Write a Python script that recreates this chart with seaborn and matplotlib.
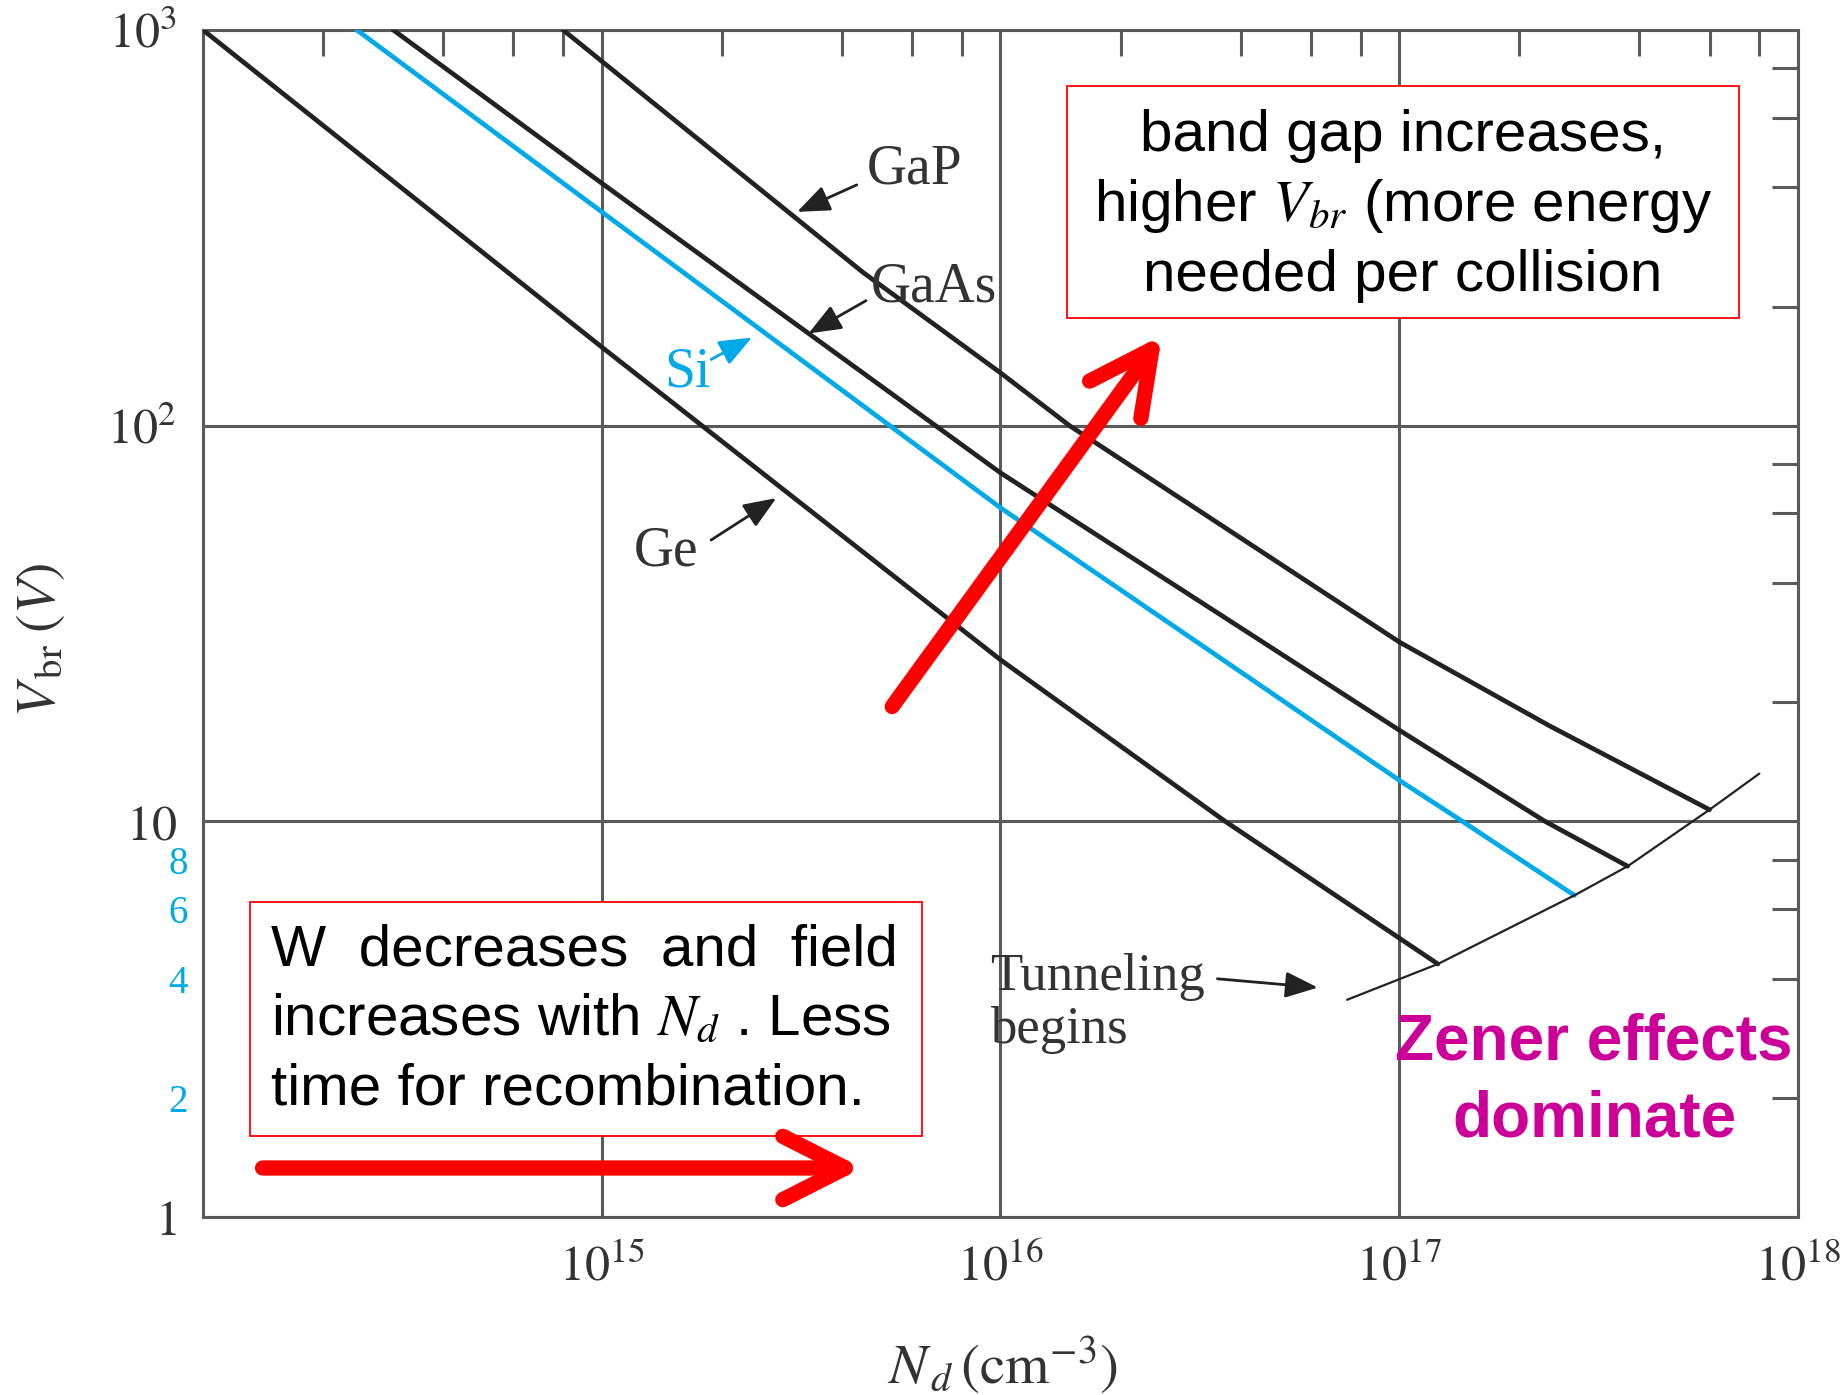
import matplotlib.pyplot as plt
import seaborn as sns
from matplotlib.patches import Rectangle
from matplotlib.ticker import NullFormatter

# breakdown voltage vs donor concentration
ge_nd = [1e14, 1e15, 1e16, 3.66e16, 1.25e17]
ge_vbr = [1000, 158, 25.6, 10, 4.36]

si_nd = [2.43e14, 1e15, 1e16, 1e17, 1.44e17, 2.75e17]
si_vbr = [1000, 347, 62, 12.7, 10, 6.5]

gaas_nd = [3.0e14, 1e15, 1e16, 1e17, 2.32e17, 3.74e17]
gaas_vbr = [1000, 410, 76, 17.0, 10, 7.7]

gap_nd = [8.0e14, 1.32e15, 4.52e15, 1e16, 1.49e16, 1e17, 2.39e17, 6.0e17]
gap_vbr = [1000, 665, 244, 136, 100, 28.4, 17.4, 10.7]

tunnel_nd = [7.4e16, 1.25e17, 2.75e17, 3.74e17, 6.0e17, 8.0e17]
tunnel_vbr = [3.54, 4.36, 6.5, 7.7, 10.7, 13.2]

x_major = [1e14, 1e15, 1e16, 1e17, 1e18]
x_major_labels = ['', r'$10^{15}$', r'$10^{16}$', r'$10^{17}$', r'$10^{18}$']
y_major = [1, 10, 100, 1000]
y_major_labels = [r'$1$', r'$10$', r'$10^2$', r'$10^3$']
y_minor_labels = ['2', '4', '6', '8']

BLACK = '#222222'
BLUE = '#00A9E8'
GRAY = '#5a5a5a'
RED = '#FF0000'
MAGENTA = '#CC0099'

sns.set_style('white')
plt.rcParams['font.family'] = ['Liberation Serif', 'DejaVu Serif']
plt.rcParams['mathtext.fontset'] = 'stix'

fig = plt.figure(figsize=(18.49, 13.95), dpi=100)
ax = fig.add_axes([0.1098, 0.1276, 0.8626, 0.8509])

for nd, vbr, col in [(ge_nd, ge_vbr, BLACK), (si_nd, si_vbr, BLUE),
                     (gaas_nd, gaas_vbr, BLACK), (gap_nd, gap_vbr, BLACK)]:
    sns.lineplot(x=nd, y=vbr, ax=ax, color=col, lw=3.4, sort=False, zorder=3)
sns.lineplot(x=tunnel_nd, y=tunnel_vbr, ax=ax, color=BLACK, lw=1.6, sort=False, zorder=3)

ax.set_xscale('log')
ax.set_yscale('log')
ax.set_xlim(1e14, 1e18)
ax.set_ylim(1, 1000)

ax.set_xticks(x_major)
ax.set_xticklabels(x_major_labels)
ax.set_xticks([k * 10.0 ** e for e in range(14, 18) for k in (2, 4, 6, 8)], minor=True)
ax.xaxis.set_minor_formatter(NullFormatter())
ax.set_yticks(y_major)
ax.set_yticklabels(y_major_labels)
ax.set_yticks([k * 10.0 ** e for e in range(0, 3) for k in (2, 4, 6, 8)], minor=True)
ax.set_yticklabels(y_minor_labels + [''] * 8, minor=True)

ax.grid(True, which='major', color=GRAY, lw=2.2)
ax.tick_params(which='both', direction='in', top=True, right=True, color=GRAY, width=2.2)
ax.tick_params(which='major', length=0, labelsize=36, labelcolor='#333333')
ax.tick_params(axis='y', which='major', pad=19)
ax.tick_params(axis='x', which='major', pad=20)
ax.tick_params(which='minor', length=19)
ax.tick_params(axis='y', which='minor', labelsize=28, labelcolor=BLUE, pad=11)
for s in ax.spines.values():
    s.set_color(GRAY)
    s.set_linewidth(2.2)

ax.set_xlabel(r'$N_{\,d}\,(\mathrm{cm}^{-3})$', fontsize=41, color='#333333', va='center')
ax.xaxis.set_label_coords(0.501, -0.125)
ax.set_ylabel(r'$V_{\,\mathrm{br}}\;(V)$', fontsize=40, color='#333333', va='center')
ax.yaxis.set_label_coords(-0.1016, 0.486)

# curve labels
lab = dict(fontsize=40, ha='center', va='center', color='#333333')
arr = dict(arrowstyle='-|>,head_length=0.5,head_width=0.2', color=BLACK, lw=2,
           mutation_scale=40, shrinkA=0, shrinkB=0)
ax.text(6.1e15, 443, 'GaP', **lab)
ax.annotate('', xy=(3.09e15, 347), xytext=(4.36e15, 406), arrowprops=arr)
ax.text(6.8e15, 224, 'GaAs', **lab)
ax.annotate('', xy=(3.3e15, 171), xytext=(4.6e15, 207), arrowprops=arr)
ax.text(1.64e15, 136, 'Si', **{**lab, 'color': BLUE})
ax.annotate('', xy=(2.38e15, 167), xytext=(1.88e15, 147), arrowprops={**arr, 'color': BLUE})
ax.text(1.45e15, 48, 'Ge', **lab)
ax.annotate('', xy=(2.74e15, 65.6), xytext=(1.88e15, 51.4), arrowprops=arr)
ax.text(9.4e15, 3.46, 'Tunneling\nbegins', fontsize=38, ha='left', va='center',
        color='#333333', linespacing=1.15)
ax.annotate('', xy=(6.25e16, 3.8), xytext=(3.5e16, 4.0), arrowprops=arr)

# explanation boxes
for x0, y0, w, h in [(0.0295, 0.0682, 0.4213, 0.1972), (0.5417, 0.7574, 0.4213, 0.1954)]:
    ax.add_patch(Rectangle((x0, y0), w, h, transform=ax.transAxes, facecolor='white',
                           edgecolor=RED, lw=1.3, zorder=5))

sans = ['Liberation Sans', 'DejaVu Sans']
ax.text(0.7524, 0.8517, 'band gap increases,\nhigher $V_{br}$ (more energy\nneeded per collision',
        transform=ax.transAxes, family=sans, fontsize=42, ha='center', va='center',
        color='black', zorder=6, linespacing=1.33)
ax.text(0.0426, 0.166, 'W  decreases  and  field\nincreases with $N_d$ . Less\ntime for recombination.',
        transform=ax.transAxes, family=sans, fontsize=42, ha='left', va='center',
        color='black', zorder=6, linespacing=1.36)
ax.text(0.8721, 0.1146, 'Zener effects\ndominate', transform=ax.transAxes, family=sans,
        fontsize=46, fontweight='bold', ha='center', va='center', color=MAGENTA, zorder=6,
        linespacing=1.35)

red = dict(arrowstyle='->,head_length=0.75,head_width=0.38', color=RED, lw=11,
           mutation_scale=60, shrinkA=0, shrinkB=0, capstyle='round', joinstyle='round')
ax.annotate('', xy=(4.5e15, 1.33), xytext=(1.41e14, 1.33), arrowprops=red, zorder=7)
ax.annotate('', xy=(2.54e16, 169), xytext=(5.35e15, 19.5), arrowprops=red, zorder=7)

fig.savefig('out.png', dpi=100)
